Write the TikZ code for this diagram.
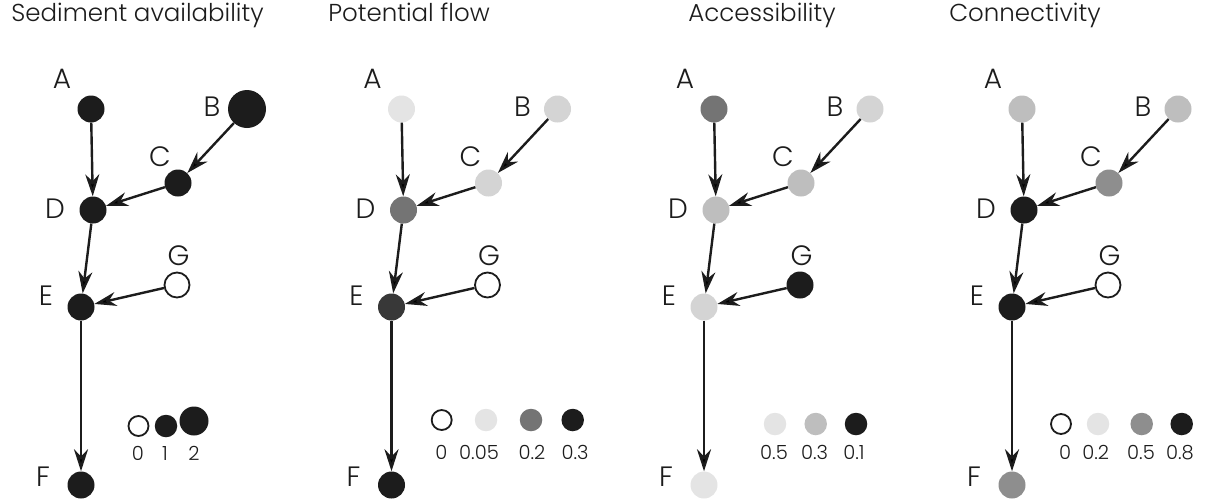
\documentclass[tikz,border=0pt]{standalone}
\usepackage{fontspec}
\setmainfont{Poppins Light}
\usetikzlibrary{arrows.meta}

\definecolor{ink}{HTML}{1C1C1C}
\definecolor{paleshade}{HTML}{E4E4E4}
\definecolor{lightshade}{HTML}{D4D4D4}
\definecolor{midshade}{HTML}{BEBEBE}
\definecolor{greyshade}{HTML}{8E8E8E}
\definecolor{darkshade}{HTML}{747474}
\definecolor{deepshade}{HTML}{383838}

\tikzset{
  dot/.style={circle, inner sep=0pt, minimum size=27pt},
  keydot/.style={circle, inner sep=0pt, minimum size=22.5pt},
  hollow/.style={circle, draw=ink, line width=1.8pt, fill=white, minimum size=25pt},
  inkfill/.style={fill=ink},
  bigfill/.style={fill=ink, minimum size=38pt},
  palefill/.style={fill=paleshade},
  lightfill/.style={fill=lightshade},
  midfill/.style={fill=midshade},
  greyfill/.style={fill=greyshade},
  darkfill/.style={fill=darkshade},
  deepfill/.style={fill=deepshade},
  link/.style={draw=ink, line width=2.4pt, ->},
  tag/.style={inner sep=0pt, text=ink, font=\fontsize{28}{28}\selectfont},
  heading/.style={inner sep=0pt, anchor=base, text=ink, font=\fontsize{24.5}{24.5}\selectfont},
  value/.style={inner sep=0pt, text=ink, font=\fontsize{19.5}{19.5}\selectfont}
}

\begin{document}
\begin{tikzpicture}[x=1pt, y=-1pt,
    >={Stealth[length=22pt, width=14pt, inset=7pt]}]
  \useasboundingbox (0,0) rectangle (1220,499);

  \node[heading] (t1) at (137.5,21) {Sediment availability};
  \node[heading] (t2) at (409,21) {Potential flow};
  \node[heading] (t3) at (762,21) {Accessibility};
  \node[heading] (t4) at (1025,21) {Connectivity};

  % the same network in all four panels
  \foreach \dx/\p/\sa/\sb/\sc/\sd/\se/\sf/\sg in {
      0/1/inkfill/bigfill/inkfill/inkfill/inkfill/inkfill/hollow,
      310.5/2/palefill/lightfill/lightfill/darkfill/deepfill/inkfill/hollow,
      623/3/darkfill/lightfill/midfill/midfill/lightfill/palefill/inkfill,
      931/4/midfill/midfill/greyfill/inkfill/inkfill/greyfill/hollow} {
    \begin{scope}[xshift=\dx pt]
      \node[dot, \sa] (A\p) at (91,109) {};
      \node[dot, \sb] (B\p) at (247,109) {};
      \node[dot, \sc] (C\p) at (178,183) {};
      \node[dot, \sd] (D\p) at (93,210) {};
      \node[dot, \se] (E\p) at (81,307) {};
      \node[dot, \sf] (F\p) at (81,485) {};
      \node[dot, \sg] (G\p) at (177,285) {};
      \node[tag] (lA\p) at (62,79) {A};
      \node[tag] (lB\p) at (212,107) {B};
      \node[tag] (lC\p) at (160,157) {C};
      \node[tag] (lD\p) at (55,209) {D};
      \node[tag] (lE\p) at (46,296) {E};
      \node[tag] (lF\p) at (43,477) {F};
      \node[tag] (lG\p) at (178.5,256) {G};
      \path[link]
      (A\p) edge (D\p)
      (B\p) edge (C\p)
      (C\p) edge (D\p)
      (D\p) edge (E\p)
      (G\p) edge (E\p)
      (E\p) edge (F\p)
      ;
    \end{scope}
  }

  % legends
  \node[hollow, minimum size=20pt] (k10) at (138.5,426) {};
  \node[keydot, inkfill] (k11) at (166,426) {};
  \node[keydot, bigfill, minimum size=29pt] (k12) at (194,421) {};
  \node[value] (v10) at (138,453) {0};
  \node[value] (v11) at (165,453) {1};
  \node[value] (v12) at (194,453) {2};

  \node[hollow, minimum size=20pt] (k20) at (441.7,420) {};
  \node[keydot, palefill] (k21) at (486,420) {};
  \node[keydot, darkfill] (k22) at (531,420) {};
  \node[keydot, inkfill] (k23) at (572.7,420) {};
  \node[value] (v20) at (441.3,452) {0};
  \node[value] (v21) at (479,452) {0.05};
  \node[value] (v22) at (532,452) {0.2};
  \node[value] (v23) at (575,452) {0.3};

  \node[keydot, palefill] (k31) at (775,424) {};
  \node[keydot, midfill] (k32) at (815.7,424) {};
  \node[keydot, inkfill] (k33) at (856,424) {};
  \node[value] (v31) at (774,452.5) {0.5};
  \node[value] (v32) at (814.5,452.5) {0.3};
  \node[value] (v33) at (854,452.5) {0.1};

  \node[hollow, minimum size=20pt] (k40) at (1061,424) {};
  \node[keydot, palefill] (k41) at (1098,424) {};
  \node[keydot, greyfill] (k42) at (1141.7,424) {};
  \node[keydot, inkfill] (k43) at (1181.7,424) {};
  \node[value] (v40) at (1065,452.5) {0};
  \node[value] (v41) at (1095.7,452.5) {0.2};
  \node[value] (v42) at (1141,452.5) {0.5};
  \node[value] (v43) at (1180,452.5) {0.8};
\end{tikzpicture}
\end{document}
